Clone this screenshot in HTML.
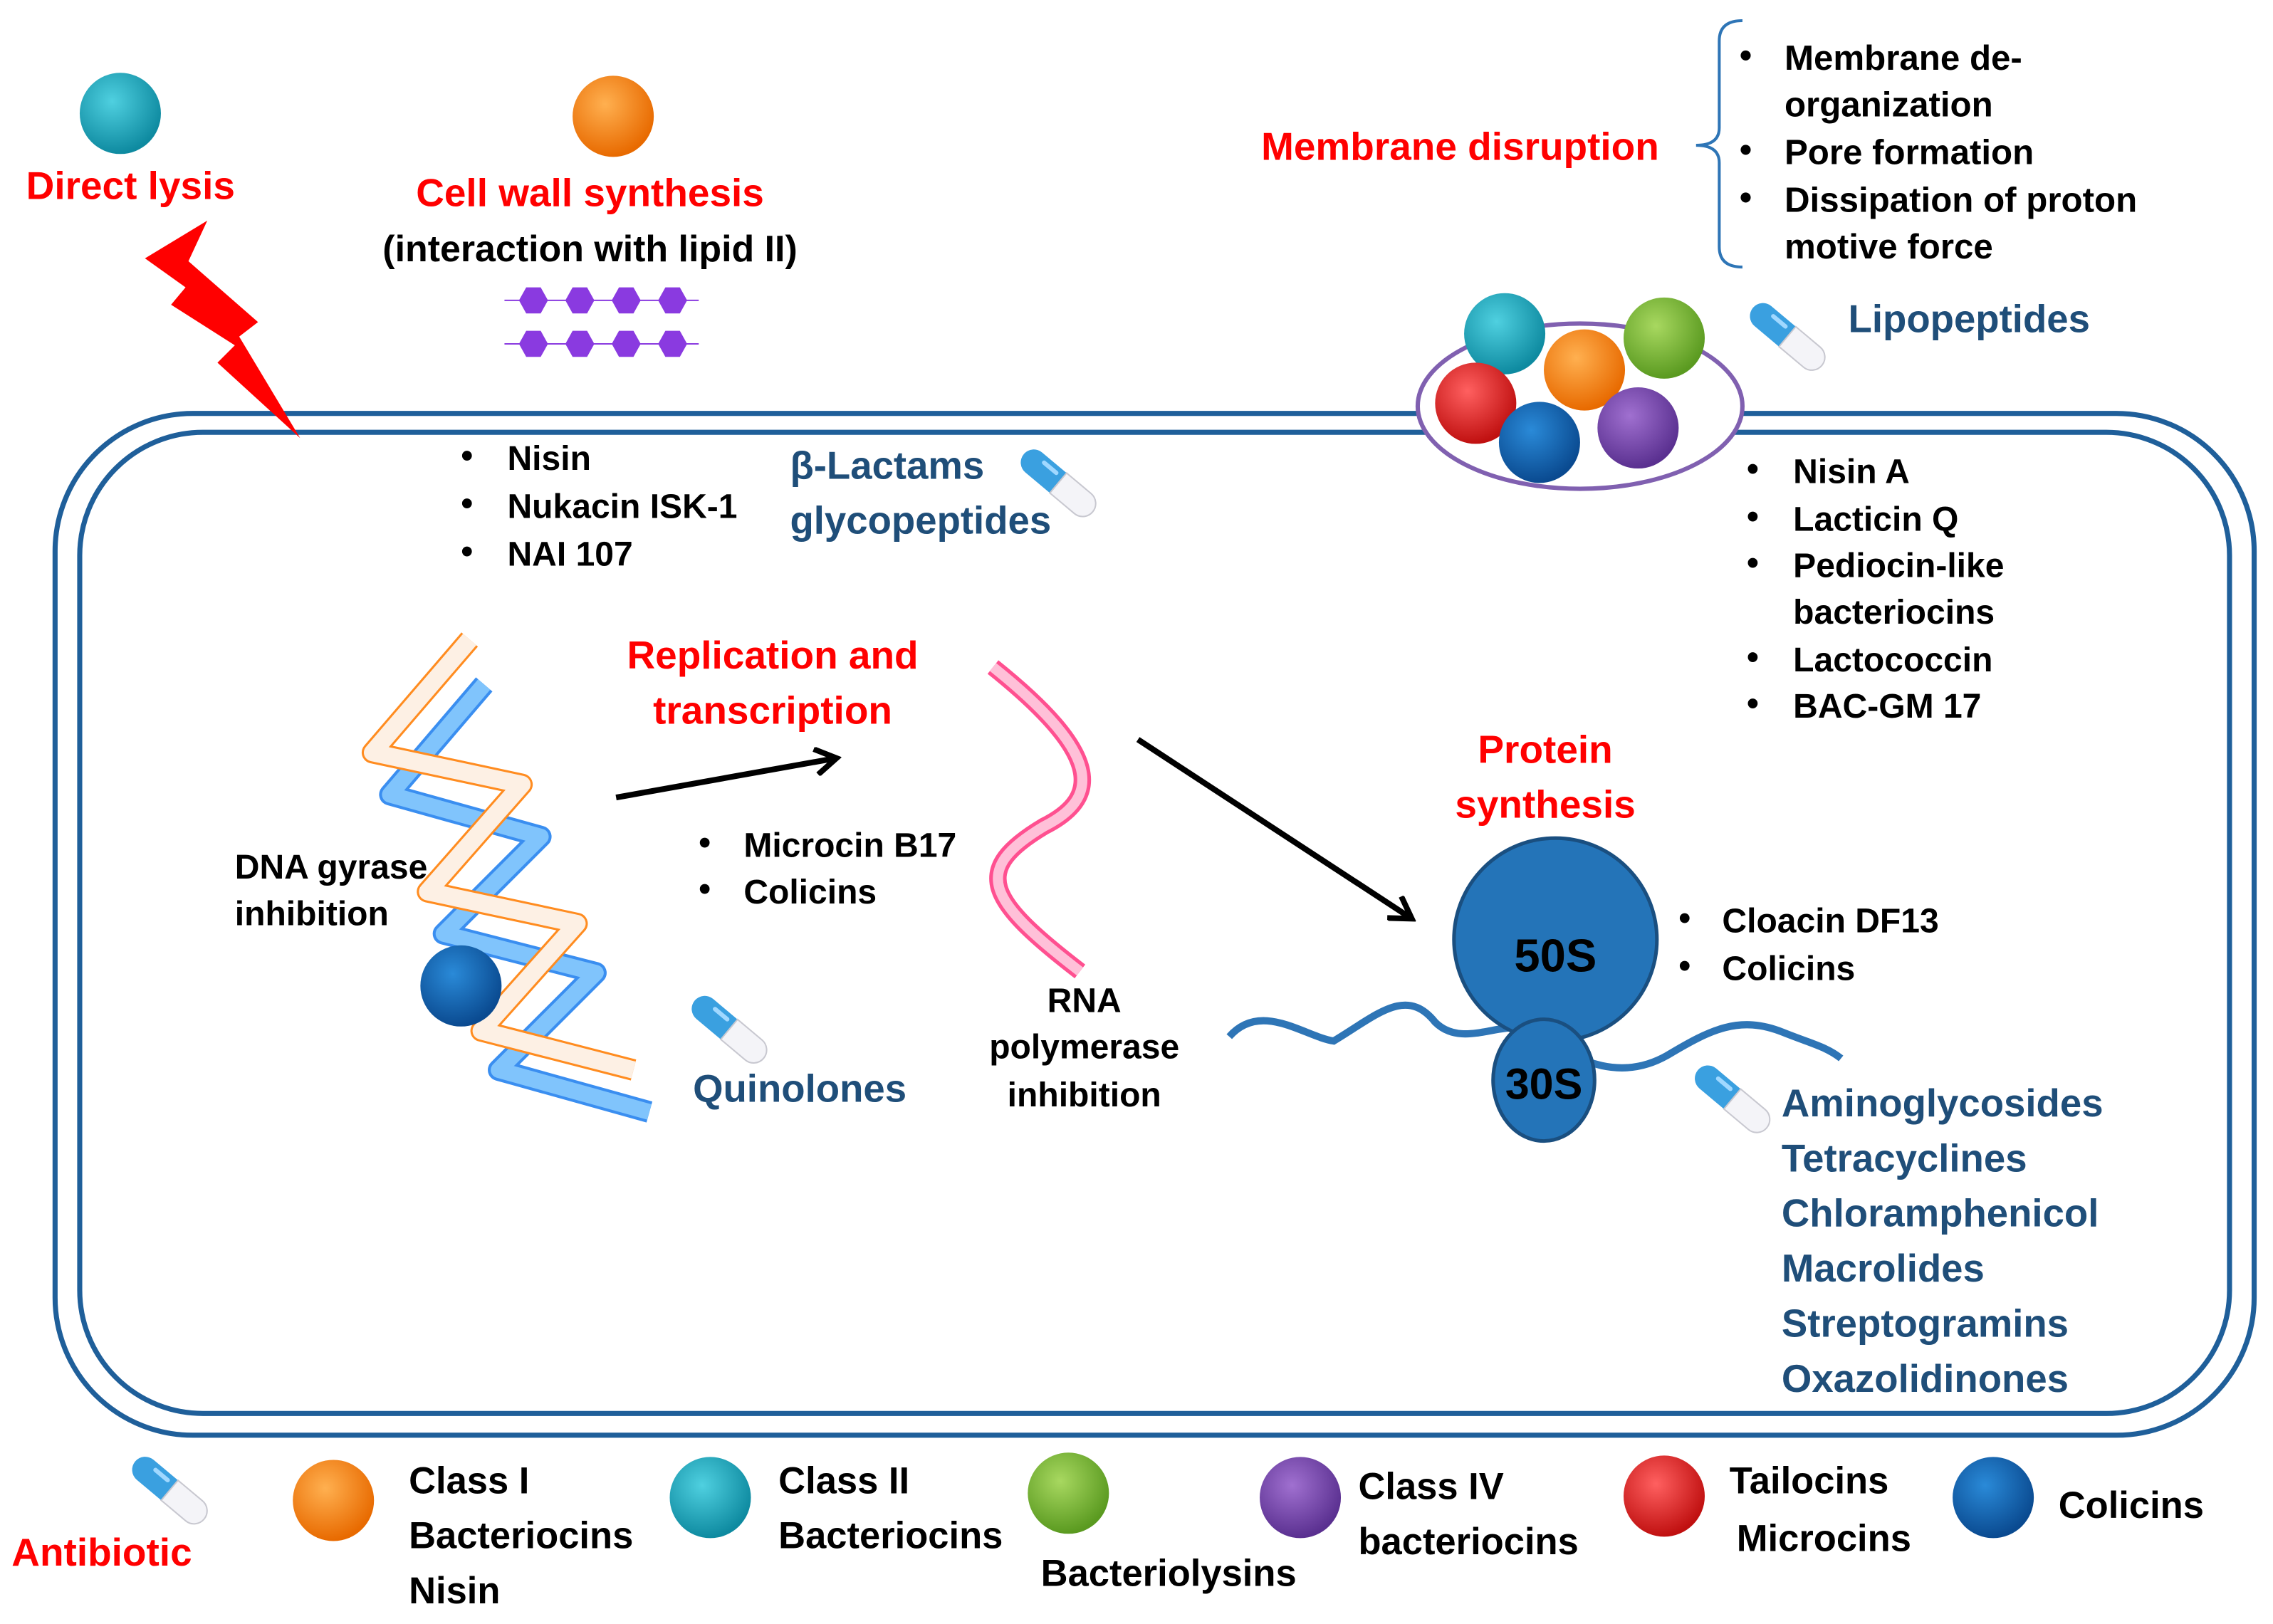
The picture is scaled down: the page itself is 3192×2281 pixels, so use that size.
<!DOCTYPE html>
<html><head><meta charset="utf-8"><style>
html,body{margin:0;padding:0;background:#fff;}
svg{display:block;}
text{font-family:"Liberation Sans",sans-serif;font-weight:bold;}
.r{fill:#ff0000;font-size:27px;}
.k{fill:#000;font-size:23.6px;}
.b{fill:#1f4e79;font-size:26.8px;}
.lg{fill:#000;font-size:25.8px;}
</style></head><body>
<svg width="3192" height="2281" viewBox="0 0 1568 1120" xmlns="http://www.w3.org/2000/svg">
<defs>
<radialGradient id="gT" cx="40%" cy="35%" r="65%"><stop offset="0" stop-color="#4fd0e0"/><stop offset="1" stop-color="#0e8aa0"/></radialGradient>
<radialGradient id="gO" cx="40%" cy="35%" r="65%"><stop offset="0" stop-color="#ffb050"/><stop offset="1" stop-color="#e86a00"/></radialGradient>
<radialGradient id="gG" cx="40%" cy="35%" r="65%"><stop offset="0" stop-color="#a8d860"/><stop offset="1" stop-color="#5a9a20"/></radialGradient>
<radialGradient id="gR" cx="40%" cy="35%" r="65%"><stop offset="0" stop-color="#ff6060"/><stop offset="1" stop-color="#c01010"/></radialGradient>
<radialGradient id="gB" cx="40%" cy="35%" r="65%"><stop offset="0" stop-color="#2a8ad8"/><stop offset="1" stop-color="#0a4a90"/></radialGradient>
<radialGradient id="gP" cx="40%" cy="35%" r="65%"><stop offset="0" stop-color="#a070d0"/><stop offset="1" stop-color="#5a3090"/></radialGradient>
<g id="cap">
<path d="M-22,-9 A9,9 0 0 0 -22,9 L0,9 L0,-9 Z" fill="#3aa0e0"/>
<path d="M0,-9 L22,-9 A9,9 0 0 1 22,9 L0,9 Z" fill="#f4f4f8" stroke="#c8c8d0" stroke-width="1"/>
<rect x="-18" y="-6" width="14" height="3" rx="1.5" fill="#a0d8ff"/>
</g>
<marker id="ar" markerWidth="20" markerHeight="20" refX="14" refY="9" orient="auto" markerUnits="userSpaceOnUse" viewBox="0 0 18 18"><path d="M2,1 L15,9 L2,17" fill="none" stroke="#000" stroke-width="3.5"/></marker>
<g id="hex"><polygon points="-10,0 -5,-9 5,-9 10,0 5,9 -5,9" fill="#8a3ae0"/></g>
</defs>

<!-- cell -->
<rect x="38" y="285" width="1517" height="705" rx="95" fill="none" stroke="#1f5f9a" stroke-width="3.5"/>
<rect x="55" y="298" width="1483" height="677" rx="85" fill="none" stroke="#1f5f9a" stroke-width="3.5"/>

<!-- top left -->
<circle cx="83" cy="78" r="28" fill="url(#gT)"/>
<circle cx="423" cy="80" r="28" fill="url(#gO)"/>
<text class="r" x="18" y="137">Direct lysis</text>
<polygon points="100,178 143,152 130,180 178,222 165,232 207,302 150,250 162,238 118,210 128,198" fill="#ff0000"/>
<text class="r" x="407" y="142" text-anchor="middle">Cell wall synthesis</text>
<text class="k" x="407" y="180" text-anchor="middle" style="font-size:25.5px">(interaction with lipid II)</text>
<line x1="348" y1="207" x2="482" y2="207" stroke="#8a3ae0" stroke-width="1"/>
<line x1="348" y1="237" x2="482" y2="237" stroke="#8a3ae0" stroke-width="1"/>
<use href="#hex" x="368" y="207"/><use href="#hex" x="400" y="207"/><use href="#hex" x="432" y="207"/><use href="#hex" x="464" y="207"/>
<use href="#hex" x="368" y="237"/><use href="#hex" x="400" y="237"/><use href="#hex" x="432" y="237"/><use href="#hex" x="464" y="237"/>

<!-- membrane disruption -->
<text class="r" x="870" y="110">Membrane disruption</text>
<path d="M1202,14 Q1186,14 1186,28 L1186,88 Q1186,100 1170,100 Q1186,100 1186,112 L1186,170 Q1186,184 1202,184" fill="none" stroke="#2e75b6" stroke-width="2"/>
<g class="k" style="font-size:24.2px">
<text x="1200" y="46">•</text><text x="1231" y="48">Membrane de-</text>
<text x="1231" y="80">organization</text>
<text x="1200" y="111">•</text><text x="1231" y="113">Pore formation</text>
<text x="1200" y="144">•</text><text x="1231" y="146">Dissipation of proton</text>
<text x="1231" y="178">motive force</text>
</g>
<use href="#cap" transform="translate(1233,232) rotate(40)"/>
<text class="b" x="1275" y="229">Lipopeptides</text>
<ellipse cx="1090" cy="280" rx="112" ry="57" fill="#fff" stroke="#8060b0" stroke-width="3"/>
<circle cx="1038" cy="230" r="28" fill="url(#gT)"/>
<circle cx="1148" cy="233" r="28" fill="url(#gG)"/>
<circle cx="1018" cy="278" r="28" fill="url(#gR)"/>
<circle cx="1093" cy="255" r="28" fill="url(#gO)"/>
<circle cx="1130" cy="295" r="28" fill="url(#gP)"/>
<circle cx="1062" cy="305" r="28" fill="url(#gB)"/>

<!-- nisin list -->
<g class="k">
<text x="318" y="322">•</text><text x="350" y="324">Nisin</text>
<text x="318" y="355">•</text><text x="350" y="357">Nukacin ISK-1</text>
<text x="318" y="388">•</text><text x="350" y="390">NAI 107</text>
</g>
<text class="b" x="545" y="330">β-Lactams</text>
<text class="b" x="545" y="368">glycopeptides</text>
<use href="#cap" transform="translate(730,333) rotate(40)"/>

<g class="k">
<text x="1205" y="331">•</text><text x="1237" y="333">Nisin A</text>
<text x="1205" y="364">•</text><text x="1237" y="366">Lacticin Q</text>
<text x="1205" y="396">•</text><text x="1237" y="398">Pediocin-like</text>
<text x="1237" y="430">bacteriocins</text>
<text x="1205" y="461">•</text><text x="1237" y="463">Lactococcin</text>
<text x="1205" y="493">•</text><text x="1237" y="495">BAC-GM 17</text>
</g>

<!-- DNA helix -->
<g fill="none" stroke-linejoin="round" stroke-linecap="butt">
<polyline points="334,472 269,548 373,577 306,644 411,671 344,738 448,767" stroke="#3a8ef0" stroke-width="15"/>
<polyline points="334,472 269,548 373,577 306,644 411,671 344,738 448,767" stroke="#80c4fc" stroke-width="11"/>
<polyline points="324,441 257,519 360,541 295,615 398,637 332,711 437,738" stroke="#ff8c20" stroke-width="15"/>
<polyline points="324,441 257,519 360,541 295,615 398,637 332,711 437,738" stroke="#fdf0e4" stroke-width="12"/>
</g>
<circle cx="318" cy="680" r="28" fill="url(#gB)"/>
<text class="k" x="162" y="606">DNA gyrase</text>
<text class="k" x="162" y="638">inhibition</text>
<use href="#cap" transform="translate(503,710) rotate(40)"/>
<text class="b" x="478" y="760">Quinolones</text>

<text class="r" x="533" y="461" text-anchor="middle">Replication and</text>
<text class="r" x="533" y="499" text-anchor="middle">transcription</text>
<line x1="425" y1="550" x2="576" y2="523" stroke="#000" stroke-width="4" marker-end="url(#ar)"/>
<g class="k">
<text x="482" y="589">•</text><text x="513" y="591">Microcin B17</text>
<text x="482" y="621">•</text><text x="513" y="623">Colicins</text>
</g>

<!-- RNA -->
<path d="M685,460 C760,520 760,550 720,570 C670,600 680,620 745,670" fill="none" stroke="#ff5090" stroke-width="12"/>
<path d="M685,460 C760,520 760,550 720,570 C670,600 680,620 745,670" fill="none" stroke="#ffc0d8" stroke-width="7"/>
<text class="k" x="748" y="698" text-anchor="middle">RNA</text>
<text class="k" x="748" y="730" text-anchor="middle">polymerase</text>
<text class="k" x="748" y="763" text-anchor="middle">inhibition</text>

<line x1="785" y1="510" x2="973" y2="633" stroke="#000" stroke-width="4" marker-end="url(#ar)"/>
<text class="r" x="1066" y="526" text-anchor="middle">Protein</text>
<text class="r" x="1066" y="564" text-anchor="middle">synthesis</text>

<!-- ribosome -->
<path d="M848,715 C870,690 900,715 920,718 C950,700 970,680 990,705 C1010,725 1040,700 1060,712 C1090,735 1120,745 1150,728 C1180,710 1200,700 1230,712 C1250,720 1260,722 1270,730" fill="none" stroke="#2e75b6" stroke-width="5"/>
<circle cx="1073" cy="648" r="70" fill="#2474b8" stroke="#1a4f80" stroke-width="2.5"/>
<ellipse cx="1065" cy="745" rx="35" ry="42" fill="#2474b8" stroke="#1a4f80" stroke-width="2.5"/>
<text x="1073" y="670" text-anchor="middle" style="font-size:32px;fill:#000">50S</text>
<text x="1065" y="758" text-anchor="middle" style="font-size:30px;fill:#000">30S</text>
<g class="k">
<text x="1158" y="641">•</text><text x="1188" y="643">Cloacin DF13</text>
<text x="1158" y="674">•</text><text x="1188" y="676">Colicins</text>
</g>
<use href="#cap" transform="translate(1195,758) rotate(40)"/>
<g class="b">
<text x="1229" y="770">Aminoglycosides</text>
<text x="1229" y="808">Tetracyclines</text>
<text x="1229" y="846">Chloramphenicol</text>
<text x="1229" y="884">Macrolides</text>
<text x="1229" y="922">Streptogramins</text>
<text x="1229" y="960">Oxazolidinones</text>
</g>

<!-- legend -->
<use href="#cap" transform="translate(117,1028) rotate(40)"/>
<text class="r" x="8" y="1080">Antibiotic</text>
<circle cx="230" cy="1035" r="28" fill="url(#gO)"/>
<g class="lg">
<text x="282" y="1030">Class I</text><text x="282" y="1068">Bacteriocins</text><text x="282" y="1106">Nisin</text>
<text x="537" y="1030">Class II</text><text x="537" y="1068">Bacteriocins</text>
<text x="718" y="1094">Bacteriolysins</text>
<text x="937" y="1034">Class IV</text><text x="937" y="1072">bacteriocins</text>
<text x="1193" y="1030">Tailocins</text><text x="1198" y="1070">Microcins</text>
<text x="1420" y="1047">Colicins</text>
</g>
<circle cx="490" cy="1033" r="28" fill="url(#gT)"/>
<circle cx="737" cy="1030" r="28" fill="url(#gG)"/>
<circle cx="897" cy="1033" r="28" fill="url(#gP)"/>
<circle cx="1148" cy="1032" r="28" fill="url(#gR)"/>
<circle cx="1375" cy="1033" r="28" fill="url(#gB)"/>
</svg>
</body></html>
